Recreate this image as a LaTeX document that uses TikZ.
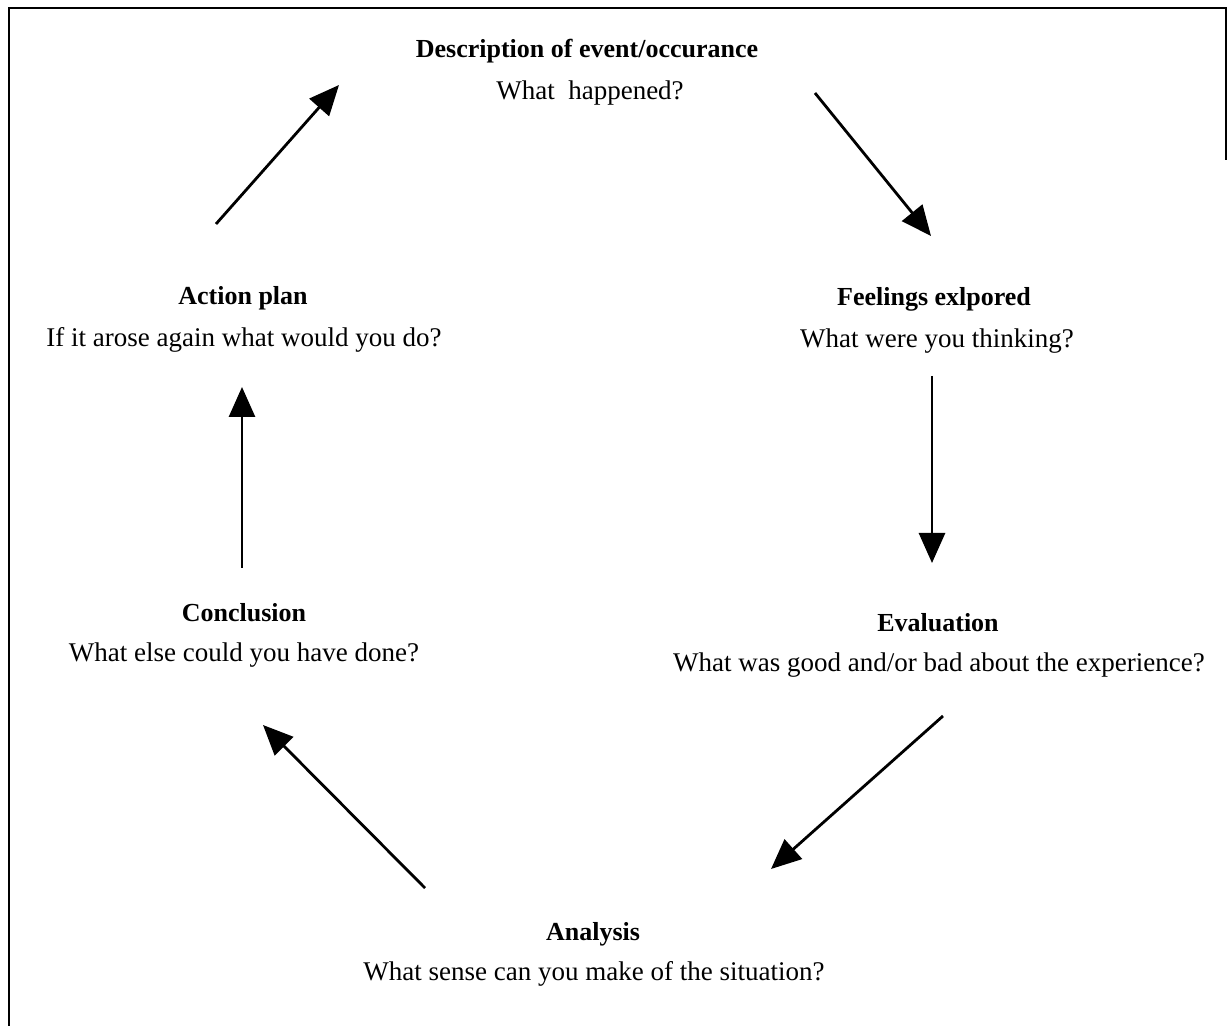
\documentclass[tikz,border=0pt]{standalone}
\usepackage{fontspec}
\setmainfont{Liberation Serif}
\usetikzlibrary{arrows.meta}
\begin{document}
\begin{tikzpicture}[x=0.5pt,y=-0.5pt,
  head/.style={font=\fontsize{13}{15}\selectfont\bfseries, inner sep=0pt},
  sub/.style={font=\fontsize{13.5}{16}\selectfont, inner sep=0pt},
  cyc/.style={line width=1.4pt, -{Triangle[length=15pt,width=13pt]}},
  frame/.style={line width=1pt}]
\useasboundingbox (0,0) rectangle (1227,1026);
% frame
\coordinate (tl) at (9,8);
\coordinate (tr) at (1226,8);
\coordinate (bl) at (9,1026);
\coordinate (rb) at (1226,160);
\draw[frame] (bl) -- (tl) -- (tr) -- (rb);
% texts
\node[head] (dh) at (587,51) {Description of event/occurance};
\node[sub]  (ds) at (590,93) {What \ happened?};
\node[head] (fh) at (934,299) {Feelings exlpored};
\node[sub]  (fs) at (937,341) {What were you thinking?};
\node[head] (eh) at (938,623) {Evaluation};
\node[sub]  (es) at (939,665) {What was good and/or bad about the experience?};
\node[head] (ah) at (593,934) {Analysis};
\node[sub]  (as) at (594,974) {What sense can you make of the situation?};
\node[head] (ch) at (244,613) {Conclusion};
\node[sub]  (cs) at (244,655) {What else could you have done?};
\node[head] (ph) at (243,298) {Action plan};
\node[sub]  (ps) at (244,340) {If it arose again what would you do?};
% arrow end points
\coordinate (a1s) at (216,224); \coordinate (a1e) at (339,85);
\coordinate (a2s) at (815,93);  \coordinate (a2e) at (931,236);
\coordinate (a3s) at (932,376); \coordinate (a3e) at (932,563);
\coordinate (a4s) at (943,716); \coordinate (a4e) at (771,869);
\coordinate (a5s) at (425,888); \coordinate (a5e) at (263,725);
\coordinate (a6s) at (242,568); \coordinate (a6e) at (242,387);
\draw[cyc] (a1s) -- (a1e);
\draw[cyc] (a2s) -- (a2e);
\draw[cyc] (a3s) -- (a3e);
\draw[cyc] (a4s) -- (a4e);
\draw[cyc] (a5s) -- (a5e);
\draw[cyc] (a6s) -- (a6e);
\end{tikzpicture}
\end{document}
